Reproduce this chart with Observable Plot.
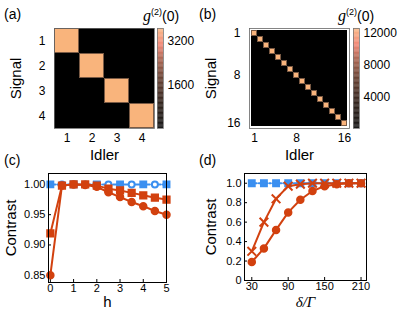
<!DOCTYPE html>
<html><head><meta charset="utf-8">
<script src="https://cdn.jsdelivr.net/npm/d3@7"></script>
<script src="https://cdn.jsdelivr.net/npm/@observablehq/plot@0.6"></script>
<style>
body{margin:0;background:#fff;}
#wrap{position:relative;width:398px;height:310px;font-family:"Liberation Sans",Arial,sans-serif;overflow:hidden;}
#wrap svg{position:absolute;}
.lbl{position:absolute;font-size:14px;color:#000;white-space:nowrap;line-height:1;}
.g2 i{font-family:"Liberation Serif",serif;font-size:16px;}
.g2 sup{font-size:9px;vertical-align:6px;}
#wrap [aria-label="x-axis label"] text, #wrap [aria-label="y-axis label"] text{font-size:15px;}
#pd [aria-label="x-axis label"] text{font-family:"Liberation Serif",serif;font-style:italic;}
</style>
</head><body><div id="wrap"></div>
<script>
// ---- data ----
const idlerA = [1, 2, 3, 4];
const signalA = [1, 2, 3, 4];
const diagA = [3650, 3650, 3650, 3650];
const offA = 1;
const ticksA = [1600, 3200];
const maxA = 3650;

const idlerB = [1,2,3,4,5,6,7,8,9,10,11,12,13,14,15,16];
const signalB = [1,2,3,4,5,6,7,8,9,10,11,12,13,14,15,16];
const diagB = [12600,12600,12600,12600,12600,12600,12600,12600,12600,12600,12600,12600,12600,12600,12600,12600];
const offB = 1;
const ticksB = [4000, 8000, 12000];
const axisTicksB = [1, 8, 16];
const maxB = 12600;

const hVals = [0, 0.5, 1, 1.5, 2, 2.5, 3, 3.5, 4, 4.5, 5];
const blueC = [1, 1, 1, 1, 1, 1, 1, 1, 1, 1, 1];
const redSqC = [0.919, 0.998, 1.0, 1.0, 0.998, 0.993, 0.990, 0.986, 0.982, 0.978, 0.975];
const redCircC = [0.850, 0.998, 1.0, 0.999, 0.996, 0.987, 0.979, 0.971, 0.964, 0.956, 0.950];
const hTicks = [0, 1, 2, 3, 4, 5];
const cTicks = [0.85, 0.90, 0.95, 1.00];

const deltaVals = [30, 50, 70, 90, 110, 130, 150, 170, 190, 210];
const blueD = [1, 1, 1, 1, 1, 1, 1, 1, 1, 1];
const redXD = [0.30, 0.60, 0.84, 0.97, 0.99, 1.0, 1.0, 1.0, 1.0, 1.0];
const redCircD = [0.19, 0.33, 0.52, 0.70, 0.83, 0.92, 0.97, 0.99, 1.0, 1.0];
const deltaTicks = [30, 90, 150, 210];
const dTicks = [0, 0.2, 0.4, 0.6, 0.8, 1.0];

// ---- styles ----
const RED = "#d2410f";
const BLUE = "#3a8ff0";
const cmapStops = [0, 0.25, 0.5, 0.7, 0.83, 1];
const cmapColors = ["#000000", "#1e0e06", "#5a3020", "#a85a44", "#ef7a68", "#f9b47c"];
const baseStyle = {fontSize: "11px", fontFamily: "Liberation Sans, Arial, sans-serif", background: "transparent", overflow: "visible", color: "#000"};
const mapStyle = {...baseStyle, fontSize: "12px"};

const wrap = document.getElementById("wrap");
function place(node, left, top, id) {
  node.style.left = left + "px"; node.style.top = top + "px";
  if (id) node.id = id;
  wrap.appendChild(node);
}
function label(html, left, top, cls) {
  const d = document.createElement("div");
  d.className = "lbl" + (cls ? " " + cls : "");
  d.innerHTML = html; d.style.left = left + "px"; d.style.top = top + "px";
  wrap.appendChild(d);
}
function colorScale(max) {
  return {type: "linear", domain: cmapStops.map(s => s * max), range: cmapColors};
}
function heatmap(idlers, signals, diag, off, max, ticks) {
  const cells = [];
  signals.forEach((s, si) => idlers.forEach((i, ii) => cells.push({i, s, v: si === ii ? diag[si] : off})));
  const dcells = cells.filter(c => c.i === c.s);
  return Plot.plot({
    width: 156, height: 165, marginLeft: 54, marginTop: 28, marginRight: 2, marginBottom: 37,
    style: mapStyle,
    x: {type: "band", domain: idlers, padding: 0, ticks, tickSize: 0, tickPadding: 5, label: "Idler", labelAnchor: "center", labelOffset: 31, labelArrow: "none"},
    y: {type: "band", domain: signals, padding: 0, ticks, tickSize: 0, tickPadding: 9, label: "Signal", labelAnchor: "center", labelOffset: 44, labelArrow: "none"},
    color: colorScale(max),
    marks: [
      Plot.cell(cells, {x: "i", y: "s", fill: "v", inset: 0}),
      Plot.cell(dcells, {x: "i", y: "s", fill: "v", inset: 0.5, stroke: "#7a5a44", strokeWidth: 1}),
      Plot.frame({stroke: "#666", strokeWidth: 0.8})
    ]
  });
}
function colorbar(max, ticks) {
  const steps = d3.range(0, max, max / 120);
  return Plot.plot({
    width: 45, height: 135, marginLeft: 2, marginRight: 37, marginTop: 28, marginBottom: 7,
    style: mapStyle,
    x: {domain: [0, 1], axis: null},
    y: {domain: [0, max], axis: "right", ticks, tickFormat: d => String(d), tickSize: 0, tickPadding: 4, label: null},
    color: colorScale(max),
    marks: [
      Plot.rect(steps, {x1: 0, x2: 1, y1: d => d, y2: d => d + max / 120 * 1.05, fill: d => d}),
      Plot.frame({stroke: "#777", strokeWidth: 0.8})
    ]
  });
}
function series(xs, ys) { return xs.map((x, k) => ({x, y: ys[k]})); }

// (a)
place(heatmap(idlerA, signalA, diagA, offA, maxA, idlerA), 0, 0);
place(colorbar(maxA, ticksA), 155, 0);
// (b)
place(heatmap(idlerB, signalB, diagB, offB, maxB, axisTicksB), 195, 0);
place(colorbar(maxB, ticksB), 351, 0);

// (c)
const bC = series(hVals, blueC), sC = series(hVals, redSqC), cC = series(hVals, redCircC);
place(Plot.plot({
  width: 175, height: 150, marginLeft: 48, marginTop: 13, marginRight: 9, marginBottom: 28,
  style: baseStyle,
  x: {domain: [-0.08, 5], ticks: hTicks, tickFormat: d => String(d), tickSize: -3, tickPadding: 5, label: "h", labelAnchor: "center", labelOffset: 24, labelArrow: "none"},
  y: {domain: [0.838, 1.018], ticks: cTicks, tickFormat: d => d.toFixed(2), tickSize: -3, tickPadding: 6, label: "Contrast", labelAnchor: "center", labelOffset: 43, labelArrow: "none"},
  marks: [
    Plot.line(bC, {x: "x", y: "y", stroke: BLUE, strokeWidth: 2, strokeDasharray: "5,2,1.5,2"}),
    Plot.dot(bC.filter((d, k) => k % 2 === 0), {x: "x", y: "y", fill: BLUE, stroke: BLUE, r: 3.6, symbol: "square"}),
    Plot.dot(bC.filter((d, k) => k % 2 === 1), {x: "x", y: "y", fill: "white", stroke: BLUE, strokeWidth: 2, r: 3, symbol: "circle"}),
    Plot.line(cC, {x: "x", y: "y", stroke: RED, strokeWidth: 2}),
    Plot.dot(cC, {x: "x", y: "y", fill: RED, stroke: RED, r: 3.5, symbol: "circle"}),
    Plot.line(sC, {x: "x", y: "y", stroke: RED, strokeWidth: 2}),
    Plot.dot(sC, {x: "x", y: "y", fill: RED, stroke: RED, r: 3.8, symbol: "square"}),
    Plot.frame({stroke: "#000", strokeWidth: 1})
  ]
}), 0, 160, "pc");

// (d)
const bD = series(deltaVals, blueD), xD = series(deltaVals, redXD), ciD = series(deltaVals, redCircD);
place(Plot.plot({
  width: 181, height: 150, marginLeft: 49, marginTop: 13, marginRight: 10, marginBottom: 30,
  style: baseStyle,
  x: {domain: [18, 219], ticks: deltaTicks, tickFormat: d => String(d), tickSize: -3, tickPadding: 5, label: "δ/Γ", labelAnchor: "center", labelOffset: 26, labelArrow: "none"},
  y: {domain: [0, 1.1], ticks: dTicks, tickFormat: d => d === 0 ? "0" : d.toFixed(1), tickSize: -3, tickPadding: 6, label: "Contrast", labelAnchor: "center", labelOffset: 39, labelArrow: "none"},
  marks: [
    Plot.line(bD, {x: "x", y: "y", stroke: BLUE, strokeWidth: 2, strokeDasharray: "5,2,1.5,2"}),
    Plot.dot(bD, {x: "x", y: "y", fill: BLUE, stroke: BLUE, r: 3.6, symbol: "square"}),
    Plot.line(ciD, {x: "x", y: "y", stroke: RED, strokeWidth: 2}),
    Plot.dot(ciD, {x: "x", y: "y", fill: RED, stroke: RED, r: 3.5, symbol: "circle"}),
    Plot.line(xD, {x: "x", y: "y", stroke: RED, strokeWidth: 2}),
    Plot.dot(xD, {x: "x", y: "y", stroke: RED, strokeWidth: 2, r: 4, symbol: "times"}),
    Plot.frame({stroke: "#000", strokeWidth: 1})
  ]
}), 195, 160, "pd");

// panel labels
label("(a)", 4, 7);
label("(b)", 199, 7);
label("(c)", 4, 153);
label("(d)", 199, 153);
label("<i>g</i><sup>(2)</sup>(0)", 143, 8, "g2");
label("<i>g</i><sup>(2)</sup>(0)", 338, 8, "g2");
</script>
</body></html>
